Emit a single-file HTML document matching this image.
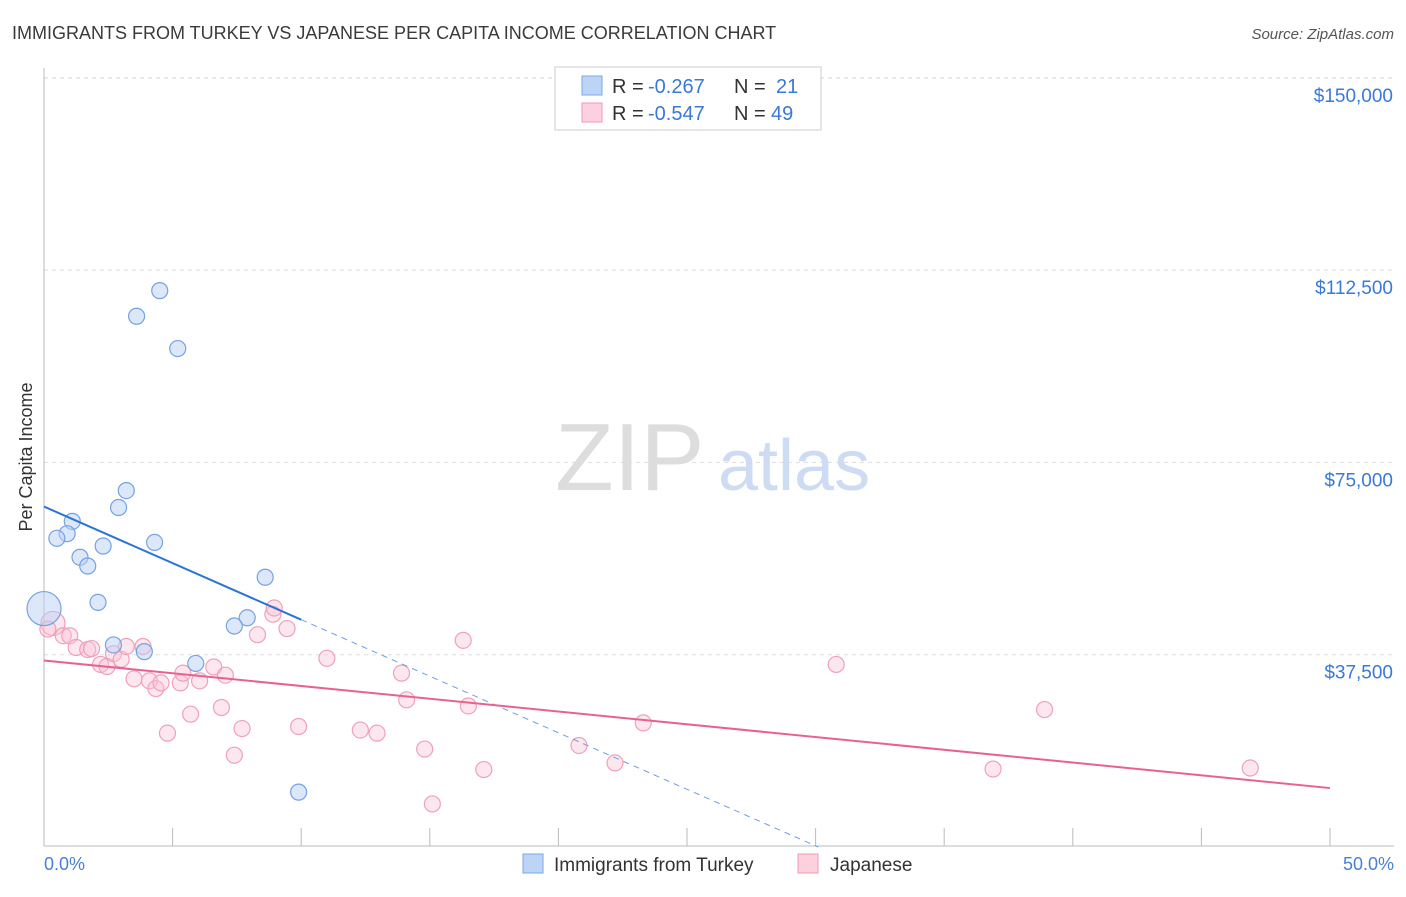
<!DOCTYPE html>
<html><head><meta charset="utf-8"><style>
body{margin:0;background:#fff;font-family:"Liberation Sans",sans-serif;}
svg text{font-family:"Liberation Sans",sans-serif;}
</style></head><body>
<svg id="chart" width="1406" height="892" xmlns="http://www.w3.org/2000/svg">
<text x="12" y="39" font-size="18" fill="#3a3a3a">IMMIGRANTS FROM TURKEY VS JAPANESE PER CAPITA INCOME CORRELATION CHART</text>
<text x="1394" y="39" font-size="15" fill="#555" font-style="italic" text-anchor="end">Source: ZipAtlas.com</text>
<g id="grid"></g>
<g><text x="555" y="490" font-size="96" fill="#ddd" font-family="Liberation Serif,serif">ZIP</text><text x="718" y="490" font-size="72" fill="#cddcf2">atlas</text></g>
<g id="ticks"></g>
<g id="marks"></g>
<text x="32" y="457" font-size="18" fill="#333" transform="rotate(-90 32 457)" text-anchor="middle">Per Capita Income</text>
<text x="44" y="870" font-size="18" fill="#4a7fd4">0.0%</text>
<text x="1394" y="870" font-size="18" fill="#4a7fd4" text-anchor="end">50.0%</text>
<g>
<rect x="555" y="67" width="266" height="63" fill="#fff" stroke="#ccc"/>
<rect x="582" y="76" width="20" height="19" fill="#bcd5f5" stroke="#7aa7e6"/>
<rect x="582" y="103" width="20" height="19" fill="#fcd0dd" stroke="#ef9ab5"/>
<text x="612" y="93" font-size="20" fill="#333">R = </text><text x="648" y="93" font-size="20" fill="#3b78d8">-0.267</text>
<text x="734" y="93" font-size="20" fill="#333">N = </text><text x="776" y="93" font-size="20" fill="#3b78d8">21</text>
<text x="612" y="120" font-size="20" fill="#333">R = </text><text x="648" y="120" font-size="20" fill="#3b78d8">-0.547</text>
<text x="734" y="120" font-size="20" fill="#333">N = </text><text x="771" y="120" font-size="20" fill="#3b78d8">49</text>
</g>
<g>
<rect x="523" y="854" width="20" height="19" fill="#bcd5f5" stroke="#7aa7e6"/>
<text x="554" y="871" font-size="19" fill="#333">Immigrants from Turkey</text>
<rect x="798" y="854" width="20" height="19" fill="#fcd0dd" stroke="#ef9ab5"/>
<text x="830" y="871" font-size="19" fill="#333">Japanese</text>
</g>
</svg>
<script>
const yTicks=[37500,75000,112500,150000];
const yTickLabels=["$37,500","$75,000","$112,500","$150,000"];
const xTicks=[0,5,10,15,20,25,30,35,40,45,50];
const turkeyX=[4.5,3.6,5.2,3.2,2.9,1.1,0.9,0.5,2.3,4.3,1.4,1.7,8.6,2.1,0.0,7.9,7.4,2.7,3.9,5.9,9.9];
const turkeyY=[108500,103500,97200,69500,66200,63500,61100,60200,58700,59400,56500,54800,52600,47700,46500,44700,43100,39400,38100,35800,10700];
const japanX=[0.35,0.15,0.75,1.0,1.25,1.7,1.85,2.2,2.45,2.7,3.0,3.2,3.85,3.5,4.1,4.35,4.55,4.8,5.3,5.4,5.7,6.05,6.6,6.9,7.05,7.4,7.7,8.3,8.9,8.95,9.45,9.9,11.0,12.3,12.95,13.9,14.1,14.8,15.1,16.3,16.5,17.1,20.8,22.2,23.3,30.8,36.9,38.9,46.9];
const japanY=[43600,42500,41200,41200,38900,38500,38700,35600,35200,37700,36600,39100,39100,32800,32400,30900,32000,22200,32000,33900,25900,32400,35100,27200,33500,17900,23100,41400,45400,46600,42600,23500,36800,22800,22200,33900,28700,19100,8400,40300,27500,15100,19800,16400,24200,35600,15200,26800,15400];
const X0=44,X1=1330,Y0=847,YS=192.3/37500;
const sx=v=>X0+(X1-X0)*v/50, sy=v=>Y0-v*YS;
const NS="http://www.w3.org/2000/svg";
function mk(tag,attrs,parent){const e=document.createElementNS(NS,tag);for(const k in attrs)e.setAttribute(k,attrs[k]);parent.appendChild(e);return e;}
const grid=document.getElementById('grid'),ticks=document.getElementById('ticks'),marks=document.getElementById('marks');
mk('line',{x1:44,y1:78,x2:1394,y2:78,stroke:'#ddd','stroke-dasharray':'4,4'},grid);
yTicks.forEach((v,i)=>{
 const l=mk('line',{x1:44,y1:sy(v),x2:1394,y2:sy(v),stroke:'#ddd','stroke-dasharray':'4,4'},grid);
 
 
 const t=mk('text',{x:1393,y:sy(v)+24,'font-size':19,fill:'#3b78d8','text-anchor':'end'},ticks);
 t.textContent=yTickLabels[i];
 
 
});
mk('line',{x1:44,y1:68,x2:44,y2:846,stroke:'#bbb'},ticks);
mk('line',{x1:44,y1:846,x2:1394,y2:846,stroke:'#bbb'},ticks);
xTicks.forEach(v=>{
 const l=mk('line',{x1:sx(v),y1:828,x2:sx(v),y2:846,stroke:'#bbb'},ticks);
 
 
});
japanX.forEach((x,i)=>{
 const c=mk('circle',{cx:sx(x),cy:sy(japanY[i]),r:i==0?12:8,fill:'rgba(250,195,212,0.4)',stroke:'#f0a0ba','stroke-width':1.2},marks);
 
 
});
turkeyX.forEach((x,i)=>{
 const c=mk('circle',{cx:sx(x),cy:sy(turkeyY[i]),r:i==14?17:8,fill:'rgba(185,208,245,0.5)',stroke:'#74a2e2','stroke-width':1.2},marks);
 
 
});
function fit(xs,ys){const n=xs.length;let mx=0,my=0;xs.forEach((x,i)=>{mx+=x;my+=ys[i];});mx/=n;my/=n;let a=0,b=0;xs.forEach((x,i)=>{a+=(x-mx)*(ys[i]-my);b+=(x-mx)**2;});const s=a/b;return [s,my-s*mx];}
const [bs,bi]=fit(turkeyX,turkeyY);
const bx=Math.min(50,-bi/bs);
let l=mk('line',{x1:sx(0),y1:sy(bi),x2:sx(10),y2:sy(bi+bs*10),stroke:'#2a74d6','stroke-width':2},marks);


l=mk('line',{x1:sx(10),y1:sy(bi+bs*10),x2:sx(bx),y2:sy(bi+bs*bx),stroke:'#6f9ee0','stroke-width':1,'stroke-dasharray':'6,5'},marks);


const [ps,pi]=fit(japanX,japanY);
l=mk('line',{x1:sx(0),y1:sy(pi),x2:sx(50),y2:sy(pi+ps*50),stroke:'#e8628f','stroke-width':2},marks);


</script>
</body></html>
